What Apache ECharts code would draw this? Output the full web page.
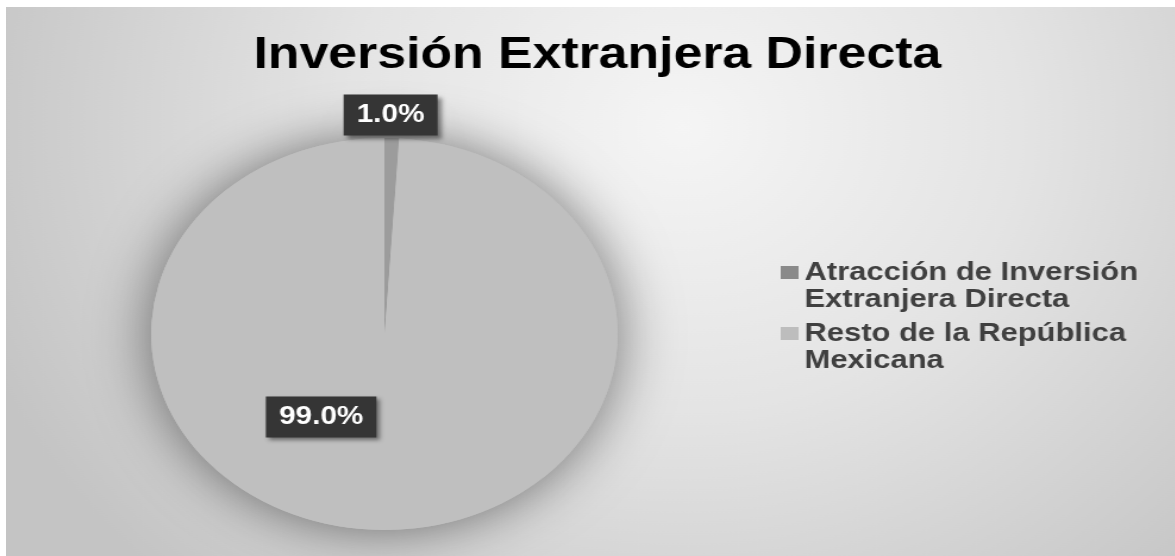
<!DOCTYPE html>
<html>
<head>
<meta charset="utf-8">
<script src="https://cdn.jsdelivr.net/npm/echarts@6/dist/echarts.min.js"></script>
<style>
html,body{margin:0;padding:0;background:#fff;width:1175px;height:556px;overflow:hidden;}
#chart{position:absolute;left:6px;top:7px;width:982px;height:549px;transform:scaleX(1.19);transform-origin:0 0;}
</style>
</head>
<body>
<div id="chart"></div>
<script>
const titleText = 'Inversión Extranjera Directa';
const categories = ['Atracción de Inversión Extranjera Directa', 'Resto de la República Mexicana'];
const values = [1.0, 99.0];
const sliceColors = ['#9c9c9c', '#bfbfbf'];
const legendColors = ['#8a8a8a', '#bdbdbd'];

const legendFont = 'bold 26px "Liberation Sans", Arial, sans-serif';
const titleFont = 'bold 43.5px "Liberation Sans", Arial, sans-serif';
const legendWrapWidth = 305;
const measureCtx = document.createElement('canvas').getContext('2d');
function textWidth(font, s) { measureCtx.font = font; return measureCtx.measureText(s).width; }
function wrapText(name) {
  const words = name.split(' ');
  const lines = [];
  let cur = '';
  words.forEach(w => {
    const test = cur ? cur + ' ' + w : w;
    if (cur && textWidth(legendFont, test) > legendWrapWidth) {
      lines.push(cur);
      cur = w;
    } else {
      cur = test;
    }
  });
  if (cur) lines.push(cur);
  return lines.join('\n');
}
const titleCenterX = 497;

const chart = echarts.init(document.getElementById('chart'), null, {renderer: 'canvas'});

const mainData = categories.map((c, i) => ({
  name: c,
  value: values[i],
  itemStyle: {color: sliceColors[i]},
  label: {offset: i === 0 ? [2, -118] : [-50, -18]}
}));
const shadowData = categories.map((c, i) => ({name: c, value: values[i]}));

chart.setOption({
  animation: false,
  backgroundColor: {
    type: 'radial', x: 0.58, y: 0.22, r: 1.15,
    colorStops: [
      {offset: 0, color: '#f5f5f5'},
      {offset: 0.45, color: '#e4e4e4'},
      {offset: 1, color: '#c4c4c4'}
    ]
  },
  title: {
    text: titleText,
    left: Math.round(titleCenterX - textWidth(titleFont, titleText) / 2),
    top: 27,
    padding: 0,
    textStyle: {fontFamily: 'Liberation Sans, Arial, sans-serif', fontWeight: 'bold', fontSize: 43.5, color: '#000'}
  },
  legend: {
    orient: 'vertical',
    left: 646,
    top: 247,
    itemWidth: 15,
    itemHeight: 40,
    itemGap: 7,
    icon: 'path://M0,0 L15,0 L15,13 L0,13 Z M0,40',
    selectedMode: false,
    data: categories.map((c, i) => ({name: c, itemStyle: {color: legendColors[i]}})),
    formatter: wrapText,
    textStyle: {
      fontFamily: 'Liberation Sans, Arial, sans-serif', fontWeight: 'bold', fontSize: 26,
      color: '#404040', lineHeight: 27
    }
  },
  series: [
    {
      type: 'pie',
      z: 3,
      center: [318, 327],
      radius: 196,
      startAngle: 90,
      clockwise: true,
      silent: true,
      data: mainData,
      labelLine: {show: false},
      label: {
        show: true,
        position: 'inside',
        formatter: p => p.percent.toFixed(1) + '%',
        fontFamily: 'Liberation Sans, Arial, sans-serif',
        fontWeight: 'bold',
        fontSize: 25,
        color: '#ffffff',
        backgroundColor: '#353535',
        padding: [8, 11, 8, 11],
        shadowColor: 'rgba(0,0,0,0.45)',
        shadowBlur: 4,
        shadowOffsetX: 3,
        shadowOffsetY: 3
      }
    },
    {
      type: 'pie',
      z: 1,
      center: [318, 327],
      radius: 196,
      startAngle: 90,
      silent: true,
      data: shadowData,
      label: {show: false},
      labelLine: {show: false},
      itemStyle: {color: '#bfbfbf', shadowBlur: 50, shadowColor: 'rgba(0,0,0,0.5)'}
    }
  ]
});
</script>
</body>
</html>
